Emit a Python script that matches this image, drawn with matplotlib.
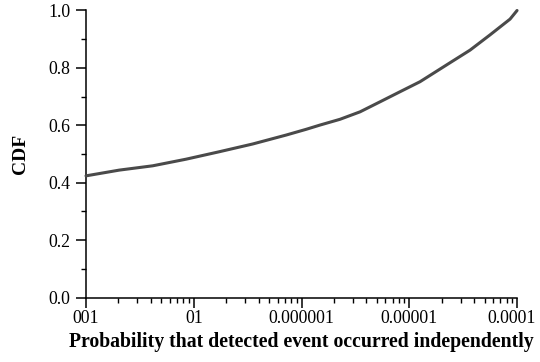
#!/usr/bin/env python3
"""CDF of the probability that a detected event occurred independently."""

import matplotlib

matplotlib.use("Agg")

import numpy as np
from matplotlib import pyplot as plt
from matplotlib import ticker
from matplotlib import transforms


# Probability (log10) and cumulative fraction along the curve.
log_prob = [-8.0, -7.691, -7.381, -7.072, -6.763, -6.453, -6.144, -5.958,
            -5.828, -5.643, -5.457, -5.271, -5.086, -4.900, -4.622, -4.436,
            -4.251, -4.065, -4.0]
cdf = [0.424, 0.444, 0.459, 0.482, 0.508, 0.535, 0.566, 0.586,
       0.601, 0.621, 0.647, 0.682, 0.717, 0.752, 0.818, 0.862,
       0.915, 0.970, 1.0]

x_ticks = [1e-8, 1e-7, 1e-6, 1e-5, 1e-4]
x_tick_labels = ["001", "01", "0.000001", "0.00001", "0.0001"]
y_ticks = [0.0, 0.2, 0.4, 0.6, 0.8, 1.0]

LINE = "#4a4a4a"
INK = "#000000"


def main():
    plt.rcParams.update(
        {
            "font.family": "Liberation Serif",
            "font.size": 12.8,
            "axes.linewidth": 1.1,
        }
    )

    fig = plt.figure(figsize=(5.4, 3.62), dpi=100, facecolor="white")
    ax = fig.add_axes([0.1593, 0.178, 0.7982, 0.793])

    xs = np.power(10.0, log_prob)
    ax.plot(xs, cdf, color=LINE, linewidth=2.2, solid_capstyle="round",
            solid_joinstyle="round", clip_on=False, zorder=3)

    ax.set_xscale("log")
    ax.set_xlim(1e-8, 1e-4)
    ax.set_ylim(0.0, 1.0)

    ax.xaxis.set_major_locator(ticker.FixedLocator(x_ticks))
    ax.xaxis.set_major_formatter(ticker.FixedFormatter(x_tick_labels))
    ax.xaxis.set_minor_locator(ticker.LogLocator(base=10, subs=np.arange(2, 10)))
    ax.xaxis.set_minor_formatter(ticker.NullFormatter())

    ax.yaxis.set_major_locator(ticker.FixedLocator(y_ticks))
    ax.yaxis.set_major_formatter(ticker.FormatStrFormatter("%.1f"))
    ax.yaxis.set_minor_locator(ticker.MultipleLocator(0.1))

    for side in ("top", "right"):
        ax.spines[side].set_visible(False)
    for side in ("left", "bottom"):
        ax.spines[side].set_color(INK)

    ax.tick_params(which="major", direction="out", length=7.2, width=1.1,
                   colors=INK, labelsize=12.8)
    ax.tick_params(which="minor", direction="out", length=3.6, width=1.0,
                   colors=INK)
    ax.tick_params(axis="x", which="major", pad=2)
    ax.tick_params(axis="y", which="major", pad=4)

    ax.set_xlabel("Probability that detected event occurred independently",
                  fontsize=14.2, fontweight="bold", labelpad=3)
    ax.set_ylabel("CDF", fontsize=14, fontweight="bold", labelpad=14)

    # Pull the last tick label inward so it stays inside the figure.
    fig.canvas.draw()
    last = ax.get_xticklabels()[-1]
    last.set_transform(last.get_transform() + transforms.ScaledTranslation(
        -5 / 100, 0, fig.dpi_scale_trans))

    fig.savefig("out.png", dpi=100, facecolor="white")
    plt.close(fig)


if __name__ == "__main__":
    main()
